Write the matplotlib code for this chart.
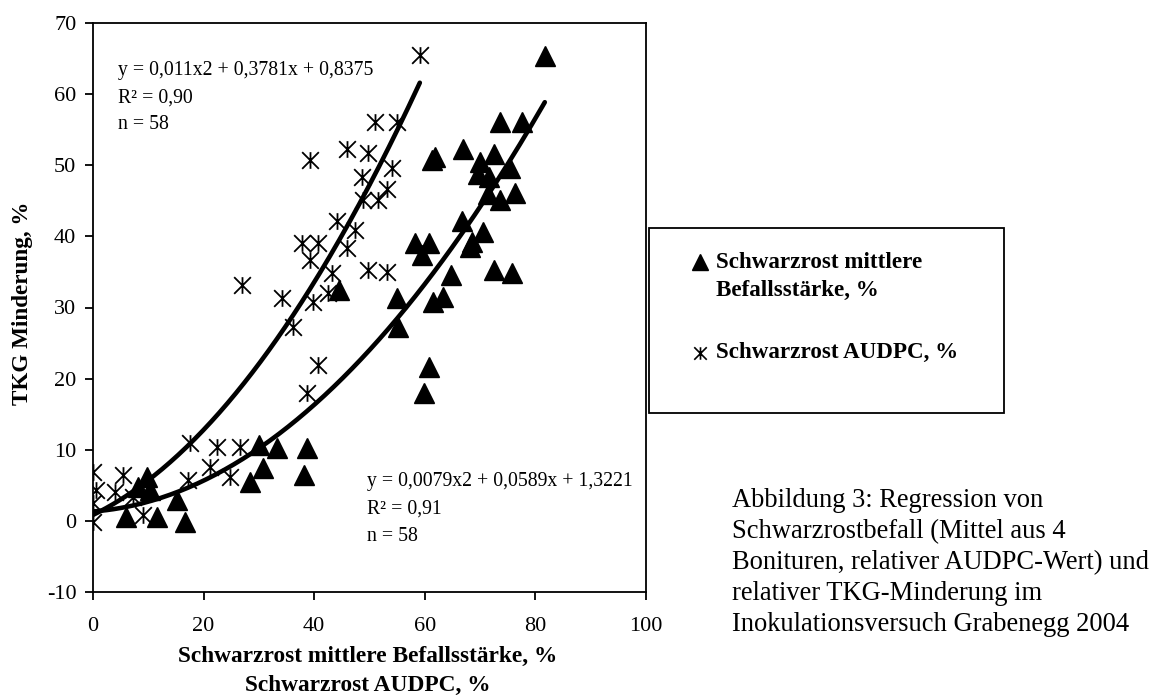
import matplotlib
matplotlib.use("Agg")
import matplotlib.pyplot as plt
import numpy as np
from matplotlib.path import Path
from matplotlib.patches import Rectangle
from matplotlib.lines import Line2D

plt.rcParams["font.family"] = ["Liberation Serif", "DejaVu Serif"]
plt.rcParams["axes.unicode_minus"] = False

W, H = 1158, 695

# Schwarzrost mittlere Befallsstärke (%) vs. TKG-Minderung (%)
befall_x = [81.7, 73.6, 77.6, 61.3, 61.8, 66.9, 72.5, 70.0, 75.4, 69.6, 71.6,
            76.3, 71.4, 73.6, 66.7, 70.5, 68.5, 58.2, 60.8, 59.5, 68.2, 64.7,
            72.5, 75.8, 55.0, 63.3, 61.5, 55.2, 60.8, 59.9, 30.0, 33.3, 38.7,
            30.7, 38.2, 28.4, 9.7, 10.3, 15.2, 16.6, 6.0, 11.5, 44.5, 8.1]
befall_y = [65.3, 56.1, 56.1, 50.8, 51.1, 52.3, 51.6, 50.4, 49.6, 48.7, 48.4,
            46.1, 45.9, 45.1, 42.1, 40.6, 39.2, 39.1, 39.1, 37.4, 38.5, 34.6,
            35.3, 34.9, 31.4, 31.5, 30.8, 27.3, 21.7, 18.0, 10.7, 10.3, 10.3,
            7.5, 6.4, 5.5, 6.2, 4.3, 3.0, -0.1, 0.6, 0.5, 32.5, 4.8]

# Schwarzrost AUDPC (%) vs. TKG-Minderung (%)
audpc_x = [39.2, 45.9, 51.0, 55.0, 49.7, 54.0, 48.6, 48.8, 51.6, 53.1, 44.1,
           47.4, 37.8, 40.7, 39.2, 45.9, 49.7, 53.1, 43.2, 39.8, 42.5, 34.2,
           26.9, 36.2, 59.1, 40.7, 38.7, 17.5, 22.4, 26.6, 21.2, 24.8, 17.2,
           0.0, 5.4, 9.0, 0.0, 0.0, 0.6, 4.0, 7.2]
audpc_y = [50.8, 52.3, 56.1, 56.1, 51.7, 49.6, 48.4, 45.1, 45.1, 46.6, 42.1,
           40.9, 39.1, 39.1, 36.7, 38.4, 35.3, 35.0, 34.9, 30.8, 32.0, 31.3,
           33.2, 27.3, 65.5, 21.9, 18.0, 11.0, 10.4, 10.4, 7.6, 6.2, 5.8,
           6.9, 6.5, 0.8, -0.2, 2.5, 4.4, 4.1, 3.4]

# polynomial regression coefficients (x², x, 1)
coef_befall = [0.0079, 0.0589, 1.3221]
coef_audpc = [0.011, 0.3781, 0.8375]

x_ticks = [0, 20, 40, 60, 80, 100]
y_ticks = [-10, 0, 10, 20, 30, 40, 50, 60, 70]


def fx(px):
    return px / W


def fy(py):
    return 1 - py / H


fig = plt.figure(figsize=(W / 100, H / 100), dpi=100)
ax = fig.add_axes([fx(93), fy(592), (646 - 93) / W, (592 - 23) / H])

star = Path([(0, -1), (0, 1), (-1, -1), (1, 1), (-1, 1), (1, -1)],
            [Path.MOVETO, Path.LINETO] * 3)

ax.plot(befall_x, befall_y, linestyle="none", marker="^", ms=14.5,
        mfc="black", mec="black", mew=1, zorder=3)
ax.plot(audpc_x, audpc_y, linestyle="none", marker=star, ms=12,
        mfc="none", mec="black", mew=1.3, zorder=3)

for xs_data, coef in ((befall_x, coef_befall), (audpc_x, coef_audpc)):
    xs = np.linspace(0, max(xs_data), 200)
    ax.plot(xs, np.polyval(coef, xs), color="black", lw=3.3, zorder=4,
            solid_capstyle="round")

ax.set_xlim(0, 100)
ax.set_ylim(-10, 70)
ax.set_xticks(x_ticks)
ax.set_yticks(y_ticks)
for s in ax.spines.values():
    s.set_linewidth(1.3)
ax.tick_params(axis="both", direction="out", length=6, width=1.3,
               labelsize=16, colors="black")
ax.tick_params(axis="x", pad=12)
ax.tick_params(axis="y", pad=6)

# regression annotations
tk = dict(fontsize=14.2, color="black", ha="left", va="baseline")
fig.text(fx(118), fy(75), "y = 0,011x2 + 0,3781x + 0,8375", **tk)
fig.text(fx(118), fy(103), "R² = 0,90", **tk)
fig.text(fx(118), fy(129), "n = 58", **tk)
fig.text(fx(367), fy(486), "y = 0,0079x2 + 0,0589x + 1,3221", **tk)
fig.text(fx(367), fy(514), "R² = 0,91", **tk)
fig.text(fx(367), fy(541), "n = 58", **tk)

# axis titles
fig.text(fx(368), fy(662), "Schwarzrost mittlere Befallsstärke, %",
         fontsize=16.8, fontweight="bold", ha="center", va="baseline")
fig.text(fx(368), fy(691), "Schwarzrost AUDPC, %",
         fontsize=16.8, fontweight="bold", ha="center", va="baseline")
fig.text(fx(23), fy(303), "TKG Minderung, %", fontsize=16.7,
         fontweight="bold", rotation=90, ha="center", va="center")

# legend box
fig.add_artist(Rectangle((fx(649), fy(413)), (1004 - 649) / W, (413 - 228) / H,
                         transform=fig.transFigure, fill=False,
                         edgecolor="black", lw=1.3))
fig.add_artist(Line2D([fx(700)], [fy(262)], transform=fig.transFigure,
                      marker="^", ms=11, mfc="black", mec="black",
                      linestyle="none"))
fig.add_artist(Line2D([fx(700)], [fy(353)], transform=fig.transFigure,
                      marker=star, ms=9, mfc="none", mec="black", mew=1.2,
                      linestyle="none"))
lk = dict(fontsize=16.6, fontweight="bold", ha="left", va="baseline")
fig.text(fx(716), fy(268), "Schwarzrost mittlere", **lk)
fig.text(fx(716), fy(296), "Befallsstärke, %", **lk)
fig.text(fx(716), fy(358), "Schwarzrost AUDPC, %", **lk)

# figure caption
caption = ["Abbildung 3: Regression von",
           "Schwarzrostbefall (Mittel aus 4",
           "Bonituren, relativer AUDPC-Wert) und",
           "relativer TKG-Minderung im",
           "Inokulationsversuch Grabenegg 2004"]
for i, line in enumerate(caption):
    fig.text(fx(732), fy(507 + 31 * i), line, fontsize=19.1,
             ha="left", va="baseline")

fig.savefig("out.png", dpi=100)
